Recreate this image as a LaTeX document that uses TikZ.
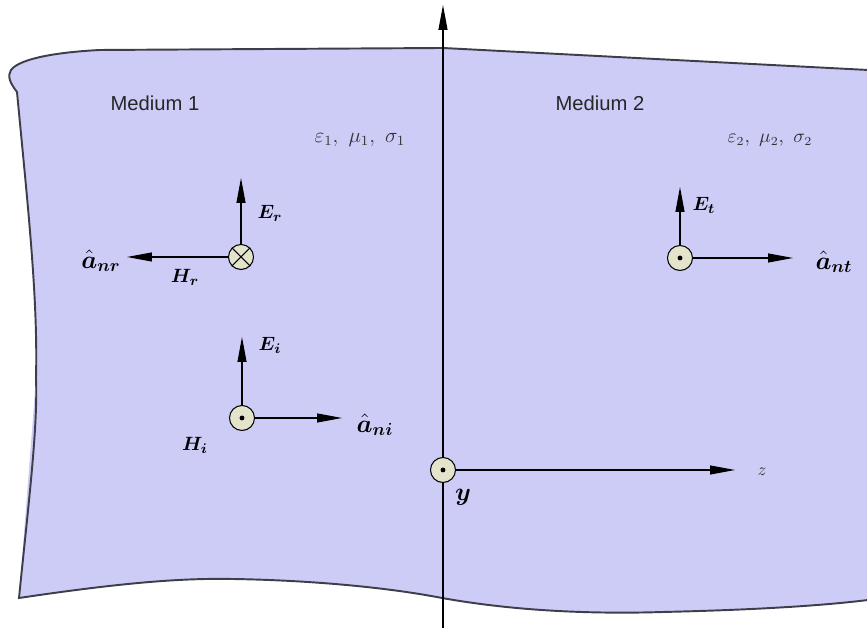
\documentclass[tikz,border=0pt]{standalone}
\usepackage{amsmath,bm}
\usepackage{fontspec}
\setsansfont{Liberation Sans}
\usepackage{tikz}
\usepackage{xcolor}
\definecolor{medium}{HTML}{CCCCF7}
\definecolor{edgegray}{HTML}{3E3E4A}
\definecolor{dotfill}{HTML}{E4E4CC}
\usetikzlibrary{arrows.meta,positioning,calc}

\begin{document}
\begin{tikzpicture}[
        x=0.02cm, y=0.02cm,
        vec/.style    = {-{Triangle[length=5mm,width=1.8mm]}, line width=0.6pt, black},
        fieldpt/.style= {circle, draw=black, line width=0.6pt, fill=dotfill,
                         minimum size=5mm, inner sep=0pt},
        mlabel/.style = {font=\sffamily\fontsize{11.5}{13}\selectfont, text=black!85},
        plabel/.style = {font=\fontsize{11.5}{13}\selectfont, text=black!80},
        flabel/.style = {font=\fontsize{11}{13}\selectfont, inner sep=1pt},
        nlabel/.style = {font=\fontsize{14}{16}\selectfont, inner sep=1pt}
    ]
        \useasboundingbox (0,0) rectangle (867,628);

        % ---- Media ----
        \fill[medium]
            (19,30) .. controls (120,45) and (180,50) .. (232,49)
            .. controls (300,48) and (380,42) .. (442,30)
            .. controls (520,16) and (600,14) .. (663,16)
            .. controls (750,18) and (820,22) .. (868,28)
            -- (868,558) -- (443,580) -- (100,578)
            .. controls (60,576) and (20,570) .. (11,558)
            .. controls (7,552) and (10,545) .. (17,536)
            .. controls (28,420) and (38,330) .. (36,250) -- cycle;
        \draw[edgegray, line width=1.1pt]
            (868,28) .. controls (820,22) and (750,18) .. (663,16)
            .. controls (600,14) and (520,16) .. (442,30)
            .. controls (380,42) and (300,48) .. (232,49)
            .. controls (180,50) and (120,45) .. (19,30)
            .. controls (28,120) and (38,200) .. (36,250)
            .. controls (38,330) and (28,420) .. (17,536)
            .. controls (10,545) and (7,552) .. (11,558)
            .. controls (20,570) and (60,576) .. (100,578)
            -- (443,580) -- (868,558);

        \node[mlabel] (m1) at (155,525) {Medium 1};
        \node[mlabel] (m2) at (600,525) {Medium 2};
        \node[plabel] (p1) at (360,488) {$\varepsilon_1,\ \mu_1,\ \sigma_1$};
        \node[plabel, font=\fontsize{10.5}{12}\selectfont] (p2) at (770,488) {$\varepsilon_2,\ \mu_2,\ \sigma_2$};

        % ---- Axes ----
        \coordinate (ybot) at (443,0);
        \coordinate (ytop) at (443,623);
        \coordinate (ztip) at (735,158);
        \draw[vec] (ybot) -- (ytop);
        \node[fieldpt] (o) at (443,158) {};
        \fill (o.center) circle (1.4pt);
        \draw[vec] (o) -- (ztip);
        \node[font=\normalsize, text=black!80] (zl) at (762,156) {$z$};
        \node[nlabel] (yl) at (463,131) {$\bm{y}$};

        % ---- Reflected ----
        \node[fieldpt] (r) at (241,371) {};
        \draw[line width=0.6pt] (r.north west) -- (r.south east) (r.north east) -- (r.south west);
        \coordinate (ertip) at (241,450);
        \coordinate (nrtip) at (127,371);
        \draw[vec] (r) -- (ertip);
        \draw[vec] (r) -- (nrtip);
        \node[flabel] (erl) at (270,415) {$\bm{E}_{\bm r}$};
        \node[flabel] (hrl) at (185,351) {$\bm{H}_{\bm r}$};
        \node[nlabel] (nrl) at (101,367) {$\hat{\bm{a}}_{\bm{nr}}$};

        % ---- Incident ----
        \node[fieldpt] (i) at (242,210) {};
        \fill (i.center) circle (1.4pt);
        \coordinate (eitip) at (242,291);
        \coordinate (nitip) at (342,210);
        \draw[vec] (i) -- (eitip);
        \draw[vec] (i) -- (nitip);
        \node[flabel] (eil) at (270,283) {$\bm{E}_{\bm i}$};
        \node[flabel] (hil) at (195,183) {$\bm{H}_{\bm i}$};
        \node[nlabel] (nil) at (375,203) {$\hat{\bm{a}}_{\bm{ni}}$};

        % ---- Transmitted ----
        \node[fieldpt] (t) at (680,370) {};
        \fill (t.center) circle (1.4pt);
        \coordinate (ettip) at (680,441);
        \coordinate (nttip) at (793,370);
        \draw[vec] (t) -- (ettip);
        \draw[vec] (t) -- (nttip);
        \node[flabel] (etl) at (704,423) {$\bm{E}_{\bm t}$};
        \node[nlabel] (ntl) at (834,366) {$\hat{\bm{a}}_{\bm{nt}}$};
    \end{tikzpicture}
\end{document}
